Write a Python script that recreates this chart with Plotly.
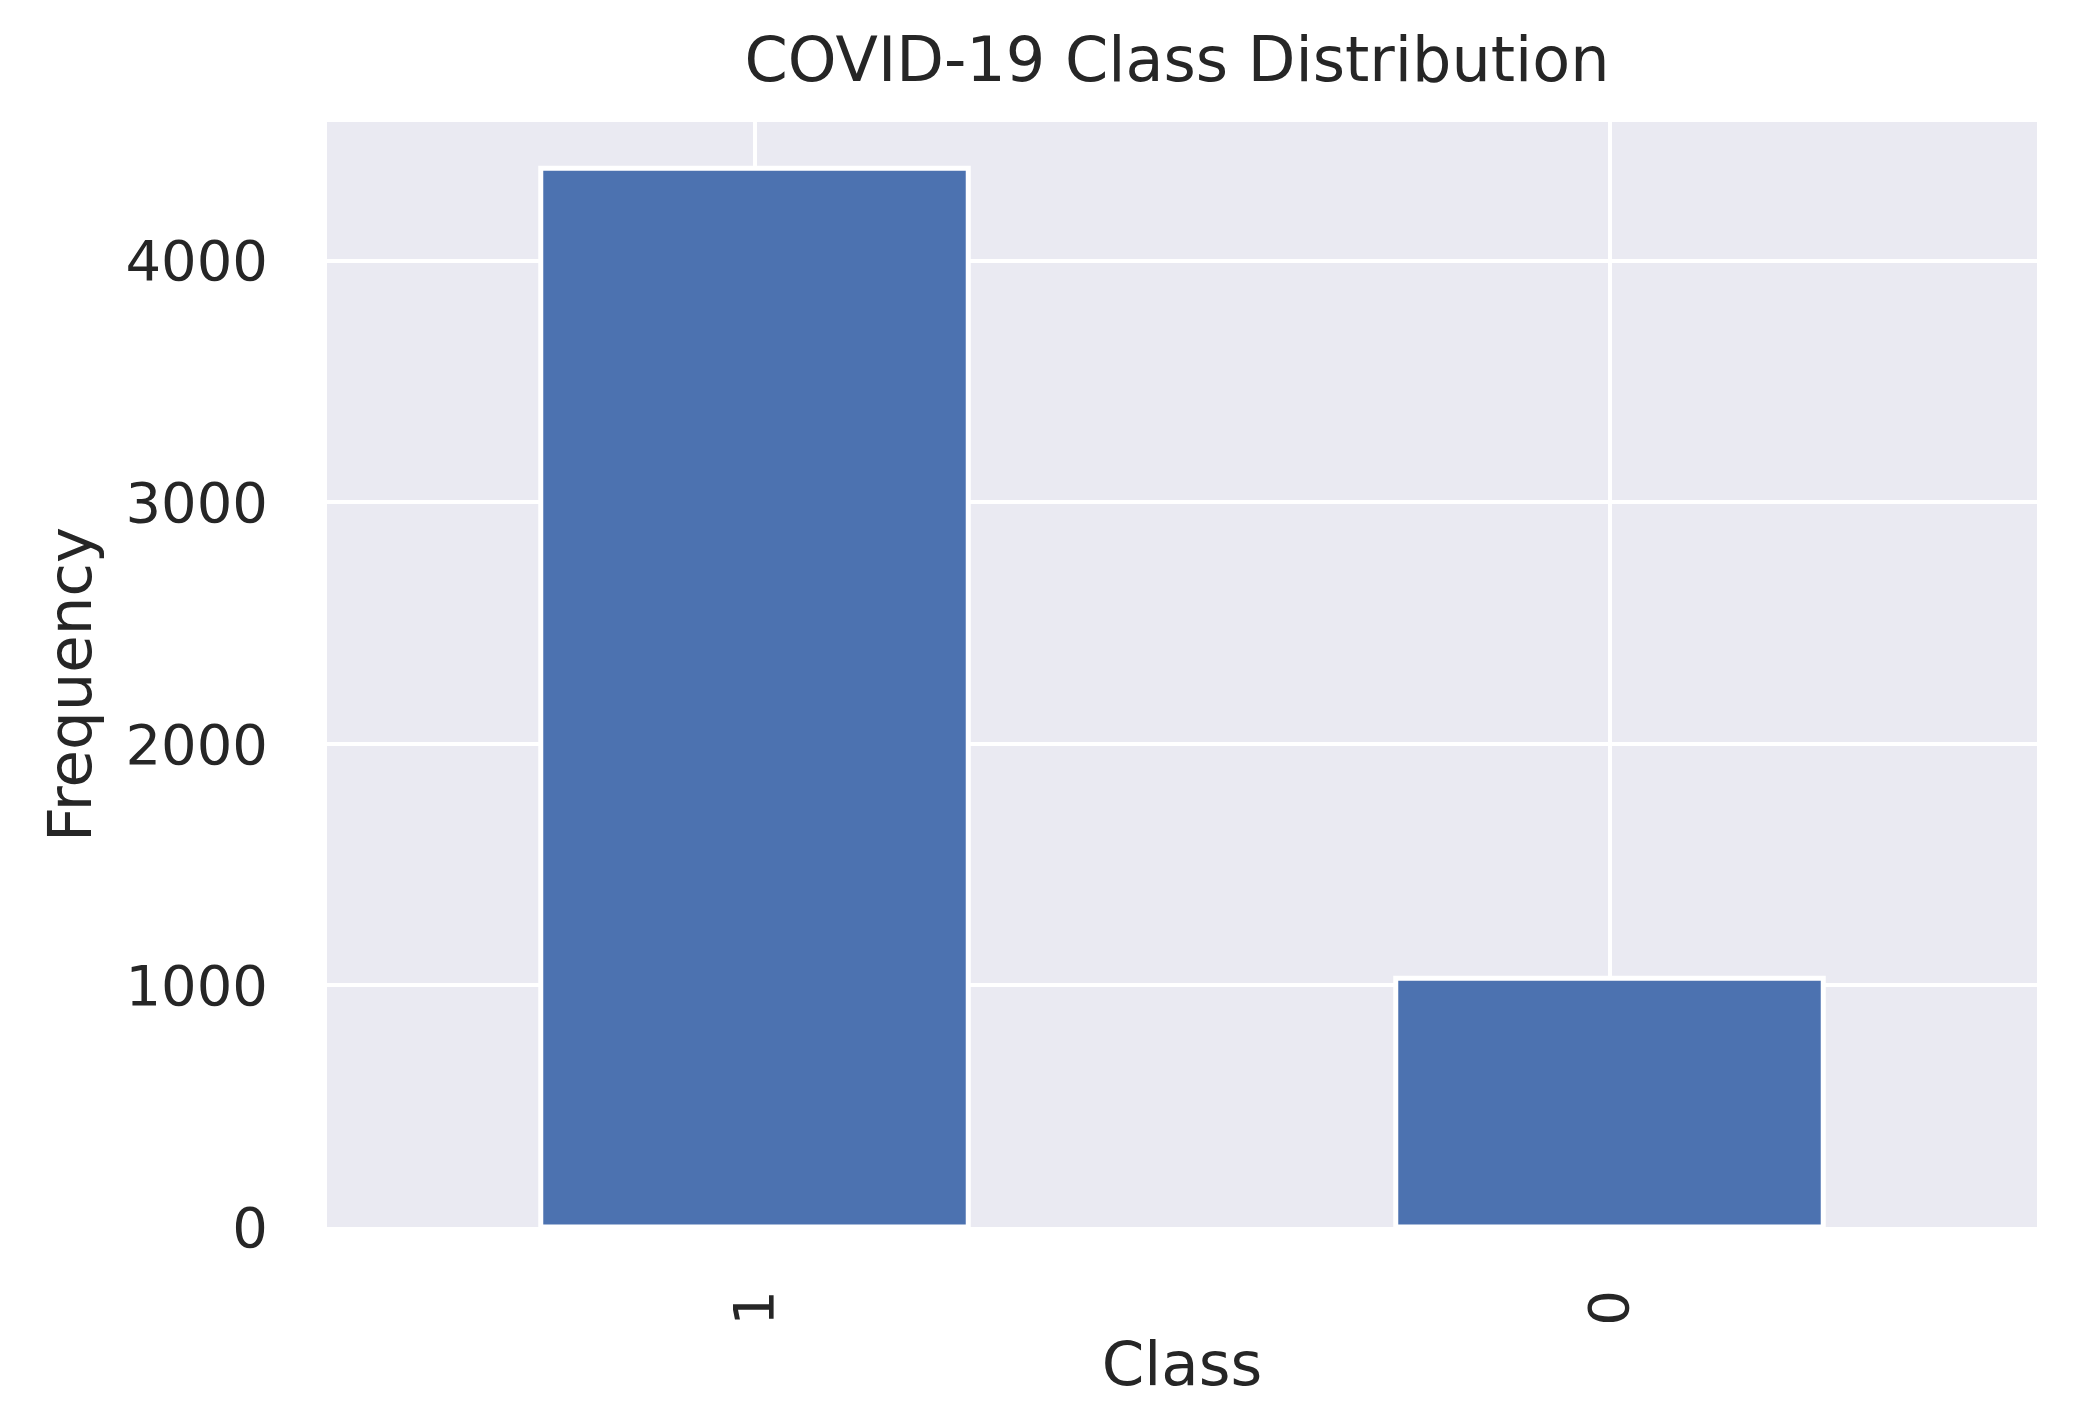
import plotly.graph_objects as go

categories = ["1", "0"]
frequencies = [4383, 1030]
y_ticks = [0, 1000, 2000, 3000, 4000]

title_text = "COVID-19 Class Distribution"
x_label = "Class"
y_label = "Frequency"

FONT = "DejaVu Sans"
TXT = "#262626"

# page body has an 8px margin; figure sized to fill the remaining viewport
W, H = 2070, 1418
ML, MR, MT, MB = 319, 41, 114, 199
PW, PH = W - ML - MR, H - MT - MB

fig = go.Figure(
    go.Bar(
        x=categories,
        y=frequencies,
        width=0.5,
        marker=dict(color="#4C72B0", line=dict(color="white", width=5)),
    )
)

fig.update_layout(
    width=W,
    height=H,
    margin=dict(l=ML, r=MR, t=MT, b=MB, autoexpand=False),
    paper_bgcolor="white",
    plot_bgcolor="#EAEAF2",
    showlegend=False,
    font=dict(family=FONT, color=TXT),
    title=dict(
        text=title_text,
        font=dict(family=FONT, size=62, color=TXT),
        x=1169 / W,
        xanchor="center",
        xref="container",
        yref="container",
        y=1 - 51 / H,
        yanchor="middle",
    ),
    annotations=[
        dict(
            text=y_label,
            textangle=-90,
            font=dict(family=FONT, size=61, color=TXT),
            xref="paper",
            yref="paper",
            x=(61 - ML) / PW,
            y=(H - MB - 677) / PH,
            xanchor="center",
            yanchor="middle",
            showarrow=False,
        )
    ],
)

fig.update_xaxes(
    type="category",
    range=[-0.5, 1.5],
    tickangle=-90,
    tickfont=dict(family=FONT, size=56, color=TXT),
    ticks="",
    ticklabelstandoff=51,
    showgrid=True,
    gridcolor="white",
    gridwidth=4,
    zeroline=False,
    showline=False,
    title=dict(text=x_label, font=dict(family=FONT, size=61, color=TXT), standoff=17),
)

fig.update_yaxes(
    range=[0, 4575],
    tickvals=y_ticks,
    ticktext=[str(v) for v in y_ticks],
    tickfont=dict(family=FONT, size=56, color=TXT),
    ticks="",
    ticklabelstandoff=58,
    showgrid=True,
    gridcolor="white",
    gridwidth=4,
    zeroline=False,
    showline=False,
)

fig.write_html("out.html")
